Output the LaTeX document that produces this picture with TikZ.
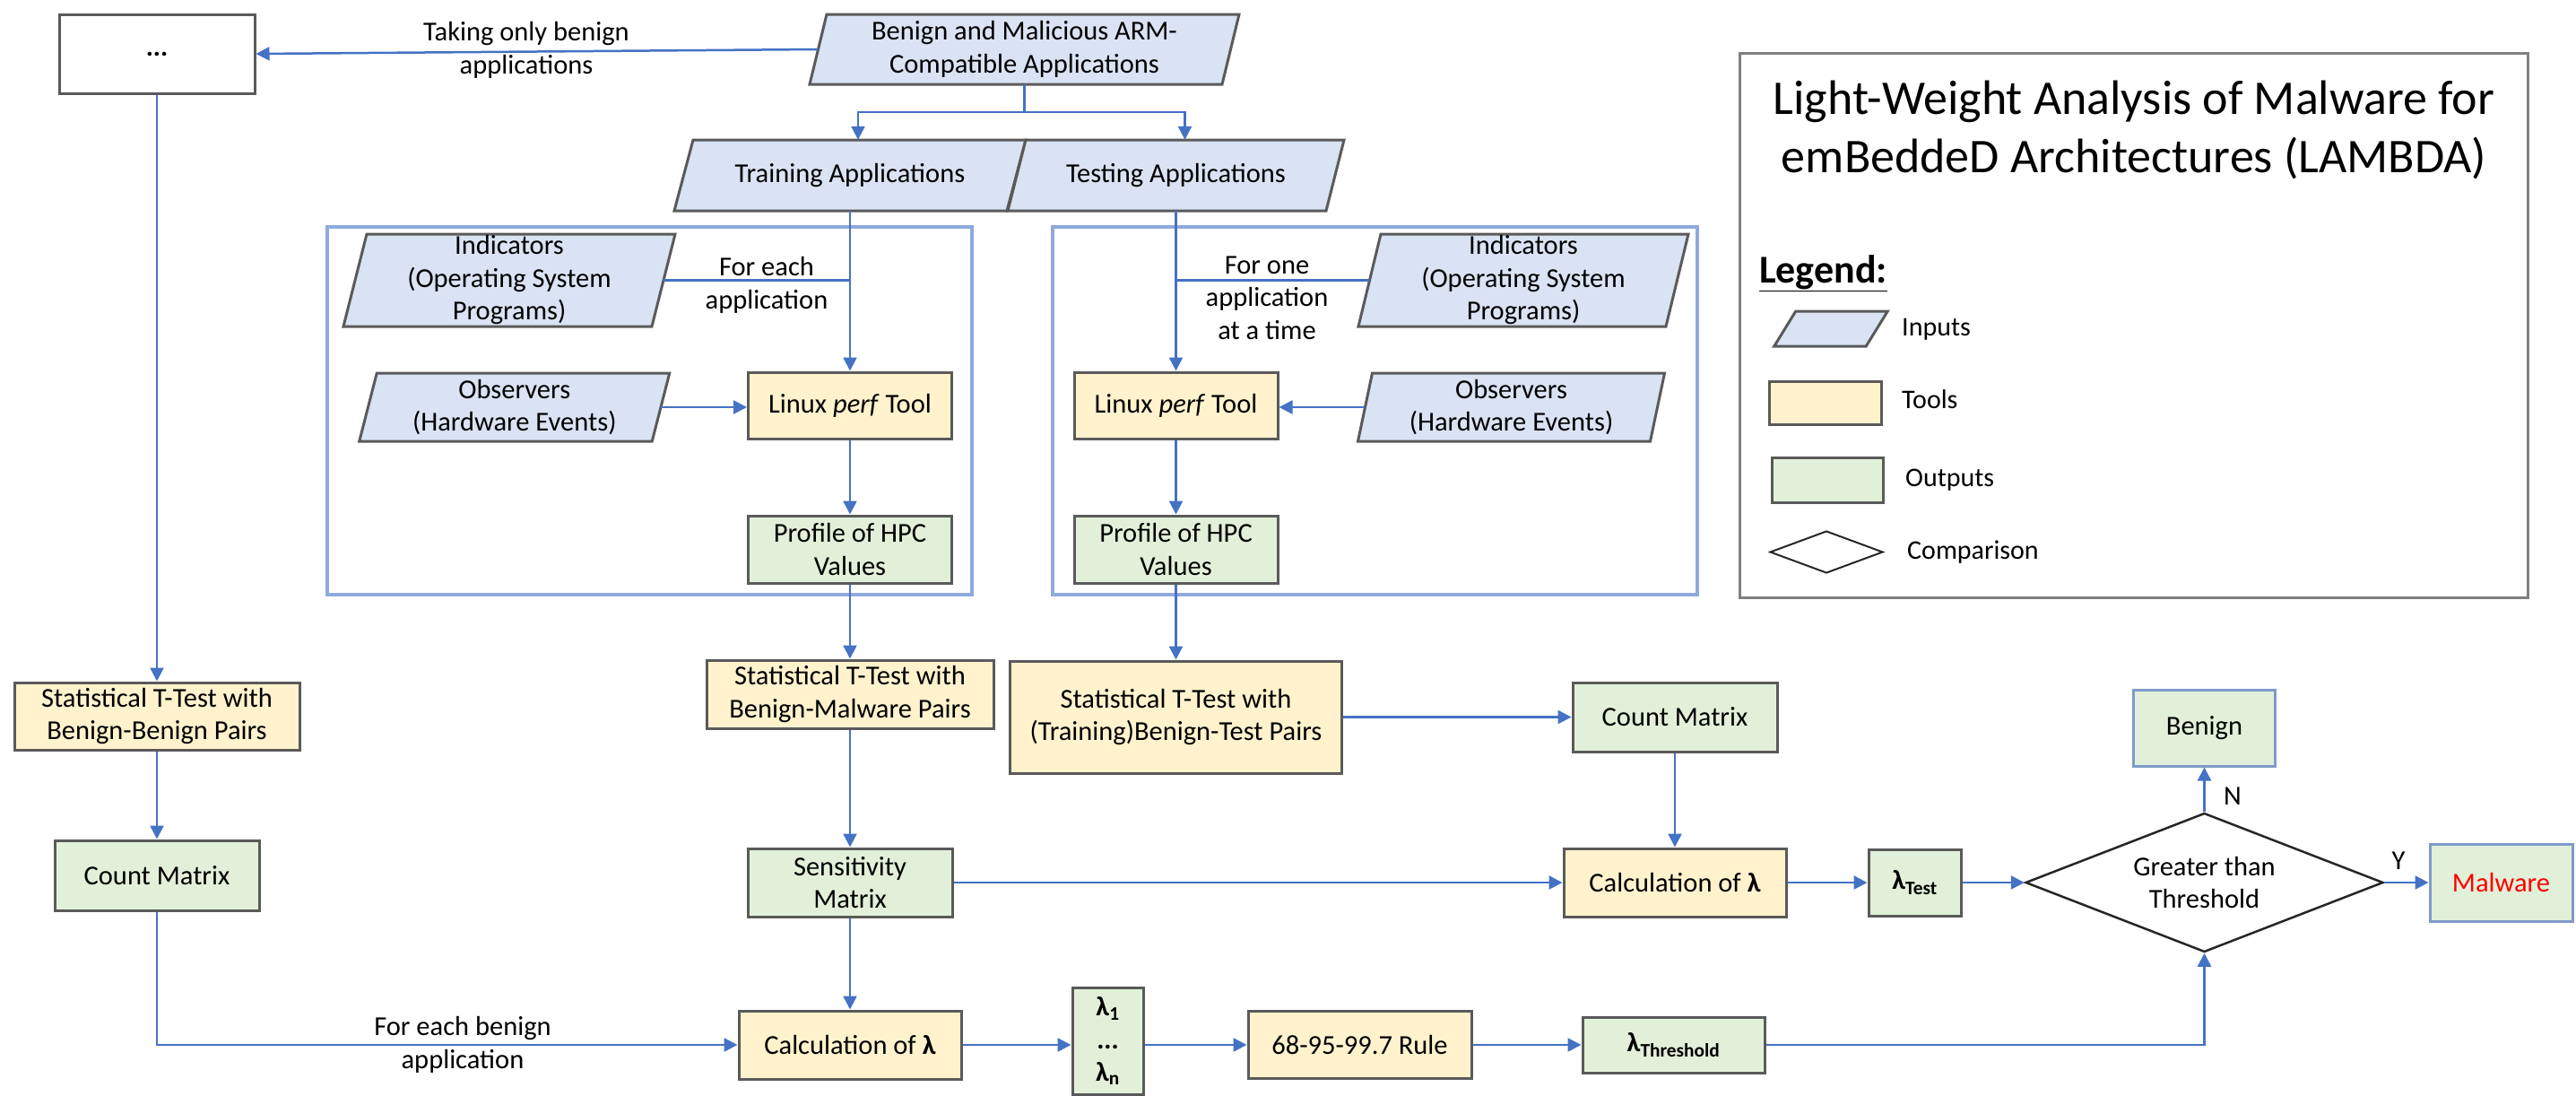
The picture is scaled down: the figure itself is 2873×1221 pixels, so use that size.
\documentclass[tikz,border=0pt]{standalone}
\usepackage{fontspec}
\setmainfont{Carlito}
\usetikzlibrary{arrows.meta,shapes.geometric,calc}
\definecolor{inputfill}{HTML}{DAE3F3}
\definecolor{toolfill}{HTML}{FFF2CC}
\definecolor{outfill}{HTML}{E2F0D9}
\definecolor{arrowblue}{HTML}{4472C4}
\definecolor{frameblue}{HTML}{8FAADC}
\definecolor{boxgray}{HTML}{5A5A5A}
\definecolor{outblue}{HTML}{7F9BC9}
\definecolor{legendgray}{HTML}{808080}
\newcommand{\bodyfont}{\fontsize{30.5}{36.5}\selectfont}
\tikzset{
 basebox/.style={rectangle, draw=boxgray, line width=3pt, align=center, inner sep=2pt, font=\bodyfont},
 toolbox/.style={basebox, fill=toolfill},
 outbox/.style={basebox, fill=outfill},
 resultbox/.style={basebox, fill=outfill, draw=outblue},
 paratext/.style={rectangle, draw=none, align=center, inner sep=0pt, font=\bodyfont},
 paraface/.style={fill=inputfill, draw=boxgray, line width=3pt, line join=miter},
 arr/.style={draw=arrowblue, line width=2.5pt, -{Triangle[length=15pt,width=15pt]}},
 conn/.style={draw=arrowblue, line width=2.5pt},
 framebox/.style={rectangle, draw=frameblue, line width=3.5pt, fill=none},
 lbl/.style={align=center, inner sep=0pt, font=\bodyfont},
 legtext/.style={anchor=west, inner sep=0pt, font=\fontsize{30}{34}\selectfont},
}
% name, cx, cy, mid width, height, half slant, text
\newcommand{\parabox}[7]{%
  \path[paraface] ({#2-#4/2+#6},{#3-#5/2}) -- ({#2+#4/2+#6},{#3-#5/2}) -- ({#2+#4/2-#6},{#3+#5/2}) -- ({#2-#4/2-#6},{#3+#5/2}) -- cycle;
  \node[paratext, minimum width=#4pt, minimum height=#5pt] (#1) at (#2,#3) {#7};
}
\begin{document}
\begin{tikzpicture}[x=1pt,y=-1pt]
\useasboundingbox (0,0) rectangle (2873,1221);

% frames
\node[framebox, minimum width=719pt, minimum height=410pt] (frameL) at (724.5,458) {};
\node[framebox, minimum width=719pt, minimum height=410pt] (frameR) at (1533.5,458) {};

% top
\node[basebox, fill=white, minimum width=218pt, minimum height=88pt] (dots) at (175,60) {\textbf{...}};
\parabox{benign}{1142.5}{55}{460}{78}{9.5}{Benign and Malicious ARM-\\Compatible Applications}
\parabox{training}{948}{195.5}{371}{79}{10.5}{Training Applications}
\parabox{testing}{1311.5}{195.5}{355}{79}{10}{Testing Applications}

% left frame
\parabox{indL}{568}{312.5}{344}{103}{13}{Indicators\\(Operating System\\Programs)}
\parabox{obsL}{573.75}{454}{326.5}{76}{9.75}{Observers\\(Hardware Events)}
\node[toolbox, minimum width=227pt, minimum height=74pt] (perfL) at (948,452) {Linux \textit{perf} Tool};
\node[outbox, minimum width=227pt, minimum height=75pt] (profL) at (948,612.5) {Profile of HPC\\Values};

% right frame
\parabox{indR}{1699}{312.5}{343}{103}{12.5}{Indicators\\(Operating System\\Programs)}
\parabox{obsR}{1685.5}{454}{326}{76}{8}{Observers\\(Hardware Events)}
\node[toolbox, minimum width=227pt, minimum height=74pt] (perfR) at (1311.5,452) {Linux \textit{perf} Tool};
\node[outbox, minimum width=227pt, minimum height=75pt] (profR) at (1311.5,612.5) {Profile of HPC\\Values};

% lower part
\node[toolbox, minimum width=318pt, minimum height=75pt] (statL) at (175,798.5) {Statistical T-Test with\\Benign-Benign Pairs};
\node[outbox, minimum width=228pt, minimum height=78pt] (countL) at (175,976) {Count Matrix};
\node[toolbox, minimum width=320pt, minimum height=76pt] (statM) at (948,774) {Statistical T-Test with\\Benign-Malware Pairs};
\node[outbox, minimum width=228pt, minimum height=76pt] (sens) at (948,984) {Sensitivity\\Matrix};
\node[toolbox, minimum width=248pt, minimum height=76pt] (calcB) at (948,1165) {Calculation of \textbf{λ}};
\node[toolbox, minimum width=370pt, minimum height=125pt] (statR) at (1311.5,799.5) {Statistical T-Test with\\(Training)Benign-Test Pairs};
\node[outbox, minimum width=228pt, minimum height=77pt] (countR) at (1868,799.5) {Count Matrix};
\node[toolbox, minimum width=248pt, minimum height=76pt] (calcR) at (1868,984) {Calculation of \textbf{λ}};
\node[outbox, minimum width=103pt, minimum height=74pt] (lamT) at (2135.5,984) {\textbf{λ\textsubscript{Test}}};
\node[diamond, shape aspect=2.57, draw=black!85, line width=2.5pt, fill=white, minimum width=399pt, minimum height=155pt, inner sep=0pt, align=center, font=\bodyfont] (cmp) at (2458.5,984) {Greater than\\Threshold};
\node[resultbox, minimum width=158pt, minimum height=85pt] (benignOut) at (2458.5,811.5) {Benign};
\node[resultbox, minimum width=159pt, minimum height=86pt, text=red] (malware) at (2789.5,984) {Malware};
\node[outbox, minimum width=79pt, minimum height=119pt] (lamN) at (1235.5,1160.5) {\textbf{λ\textsubscript{1}}\\\textbf{...}\\\textbf{λ\textsubscript{n}}};
\node[toolbox, minimum width=249pt, minimum height=75pt] (rule) at (1516.5,1165) {68-95-99.7 Rule};
\node[outbox, minimum width=203pt, minimum height=62pt] (lamTh) at (1866.5,1165) {\textbf{λ\textsubscript{Threshold}}};

% legend
\node[rectangle, draw=legendgray, line width=3pt, minimum width=879pt, minimum height=607pt] (legend) at (2379.5,362.5) {};
\node[align=center, inner sep=0pt, font=\fontsize{54}{65}\selectfont] (title) at (2380,144.5) {Light-Weight Analysis of Malware for\\emBeddeD Architectures (LAMBDA)};
\node[anchor=west, inner sep=0pt, font=\fontsize{44}{50}\selectfont\bfseries] (legendhead) at (1962,305) {\underline{Legend:}};
\parabox{legIn}{2042}{366.5}{102.5}{39}{12}{}
\node[toolbox, minimum width=125pt, minimum height=48pt] (legTool) at (2035.5,449) {};
\node[outbox, minimum width=124pt, minimum height=50pt] (legOut) at (2038,535) {};
\node[diamond, draw=black!85, line width=2pt, minimum width=126pt, minimum height=47pt, inner sep=0pt] (legCmp) at (2037,615.5) {};
\node[legtext] (legInT) at (2121,367) {Inputs};
\node[legtext] (legToolT) at (2121,445) {Tools};
\node[legtext] (legOutT) at (2125,535) {Outputs};
\node[legtext] (legCmpT) at (2127,616) {Comparison};

% connectors
\draw[arr] (benign.west) -- (dots.east);
\draw[arr] (benign.south) -- ++(0,31) -| ([xshift=9pt]training.north);
\draw[arr] (benign.south) -- ++(0,31) -| ([xshift=10pt]testing.north);
\draw[arr] (training.south) -- (perfL.north);
\draw[conn] (indL.east) -- (indL.east -| perfL.north);
\draw[arr] (obsL.east) -- (obsL.east -| perfL.west);
\draw[arr] (perfL) -- (profL);
\draw[arr] (profL) -- (statM);
\draw[arr] (testing.south) -- (perfR.north);
\draw[conn] (indR.west) -- (indR.west -| perfR.north);
\draw[arr] (obsR.west) -- (obsR.west -| perfR.east);
\draw[arr] (perfR) -- (profR);
\draw[arr] (profR) -- (statR);
\draw[arr] (dots) -- (statL);
\draw[arr] (statL) -- (countL);
\draw[arr] (countL.south) |- (calcB.west);
\draw[arr] (statM) -- (sens);
\draw[arr] (sens) -- (calcB);
\draw[arr] (sens) -- (calcR);
\draw[arr] (statR) -- (countR);
\draw[arr] (countR) -- (calcR);
\draw[arr] (calcR) -- (lamT);
\draw[arr] (lamT) -- (cmp);
\draw[arr] (cmp) -- (benignOut);
\draw[arr] (cmp) -- (malware);
\draw[arr] (calcB.east) -- (calcB.east -| lamN.west);
\draw[arr] (calcB.east -| lamN.east) -- (rule.west);
\draw[arr] (rule) -- (lamTh);
\draw[arr] (lamTh.east) -| (cmp.south);

% labels
\node[lbl] (lTake) at (587,56) {Taking only benign\\applications};
\node[lbl] (lEach) at (855,318) {For each\\application};
\node[lbl] (lOne) at (1413,332) {For one\\application\\at a time};
\node[lbl] (lBenApp) at (516,1165) {For each benign\\application};
\node[lbl] (lN) at (2490,888) {N};
\node[lbl] (lY) at (2675,960) {Y};
\end{tikzpicture}
\end{document}
